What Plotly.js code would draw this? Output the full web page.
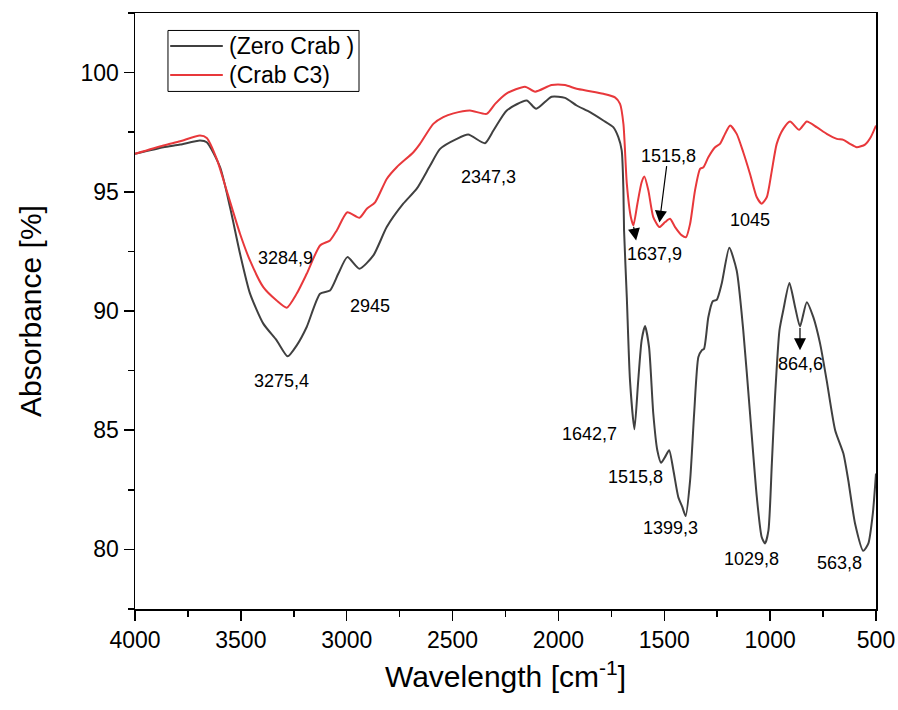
<!DOCTYPE html>
<html>
<head>
<meta charset="utf-8">
<script src="https://cdn.plot.ly/plotly-3.0.1.min.js"></script>
<style>html,body{margin:0;padding:0;background:#fff;}#chart{width:898px;height:710px;}</style>
</head>
<body>
<div id="chart"></div>
<script>
// Zero Crab (gray) series
var zeroWavenumber = [4000,3866,3787,3693,3661,3598,3551,3504,3457,3394,3331,3279,3236,3189,3126,3079,3040,2997,2940,2874,2811,2733,2669,2606,2559,2480,2426,2347,2307,2244,2150,2105,2032,1969,1914,1851,1788,1741,1717,1701,1693,1690,1677,1662,1641,1623,1607,1591,1572,1552,1533,1515,1496,1477,1457,1434,1415,1399,1378,1359,1339,1323,1312,1292,1271,1252,1229,1193,1158,1127,1095,1063,1040,1024,1008,992,977,956,938,909,882,859,827,796,764,733,693,654,631,599,560,536,515,500];
var zeroValues = [96.59,96.87,96.98,97.15,97.08,96.03,94.35,92.41,90.74,89.47,88.77,88.10,88.56,89.33,90.72,90.86,91.56,92.26,91.77,92.33,93.52,94.50,95.13,96.10,96.80,97.22,97.40,97.04,97.57,98.41,98.83,98.48,98.99,98.94,98.62,98.34,97.99,97.71,97.29,96.73,95.05,93.38,90.58,87.09,85.04,87.09,88.77,89.37,88.49,85.70,84.16,83.63,83.88,84.16,83.32,82.20,81.78,81.40,82.90,85.70,88.07,88.35,88.42,89.74,90.41,90.47,91.14,92.65,91.70,89.19,85.70,82.20,80.52,80.25,80.80,83.60,86.39,89.19,90.03,91.17,90.16,89.35,90.37,89.74,88.63,87.09,85.00,84.02,82.90,81.09,79.94,80.25,81.50,83.18];

// Crab C3 (red) series
var c3Wavenumber = [4000,3866,3787,3693,3661,3614,3567,3504,3457,3394,3331,3283,3236,3189,3126,3079,3047,2997,2940,2905,2866,2811,2764,2685,2654,2591,2544,2496,2418,2339,2299,2244,2158,2110,2032,1969,1914,1851,1788,1733,1709,1693,1677,1658,1646,1627,1607,1594,1575,1552,1523,1496,1473,1449,1417,1397,1378,1355,1331,1315,1292,1260,1237,1213,1189,1158,1127,1095,1063,1040,1016,992,969,938,906,863,827,780,733,685,654,623,591,552,525,500];
var c3Values = [96.59,96.94,97.12,97.36,97.26,96.38,95.05,93.24,92.12,91.00,90.44,90.14,90.73,91.56,92.75,92.96,93.38,94.14,93.91,94.29,94.56,95.54,96.03,96.66,97.01,97.85,98.13,98.29,98.41,98.27,98.69,99.13,99.41,99.20,99.48,99.48,99.32,99.22,99.11,98.96,98.69,97.85,95.34,93.94,93.59,94.50,95.40,95.64,95.05,93.94,93.52,93.73,93.87,93.52,93.17,93.10,93.66,95.05,95.96,96.03,96.45,96.87,97.01,97.43,97.78,97.43,96.66,95.75,94.77,94.50,94.77,95.89,97.01,97.64,97.95,97.60,97.95,97.71,97.43,97.22,97.18,97.01,96.87,96.98,97.29,97.78];

// Peak labels
var peakLabels = ["3284,9","3275,4","2945","2347,3","1515,8","1637,9","1045","864,6","1642,7","1515,8","1399,3","1029,8","563,8"];
var peakLabelX = [3287,3310,2890,2329,1478,1544,1095,855,1851,1638,1473,1090,673];
var peakLabelY = [92.23,87.05,90.21,95.61,96.52,92.40,93.83,87.79,84.83,83.04,80.90,79.58,79.41];

// Arrows: head (x,y) and tail (ax,ay)
var arrowHeadX = [1633,1523,859];
var arrowHeadY = [92.96,93.71,88.35];
var arrowTailX = [1646,1488,859];
var arrowTailY = [93.59,96.14,89.35];

var seriesNames = ["(Zero Crab )","(Crab C3)"];
var seriesColors = ["#404040","#e8383b"];
var xTicks = [4000,3500,3000,2500,2000,1500,1000,500];
var yTicks = [80,85,90,95,100];

var FONT = "Liberation Sans, Arial, sans-serif";

var traces = [
  {x: zeroWavenumber, y: zeroValues, type: "scatter", mode: "lines", name: seriesNames[0],
   line: {color: seriesColors[0], width: 2, shape: "spline", smoothing: 0.6}},
  {x: c3Wavenumber, y: c3Values, type: "scatter", mode: "lines", name: seriesNames[1],
   line: {color: seriesColors[1], width: 2, shape: "spline", smoothing: 0.6}}
];

var annotations = [];
for (var i = 0; i < peakLabels.length; i++) {
  annotations.push({x: peakLabelX[i], y: peakLabelY[i], xref: "x", yref: "y", text: peakLabels[i],
    showarrow: false, font: {family: FONT, size: 18, color: "#000"}, xanchor: "center", yanchor: "middle"});
}
for (var j = 0; j < arrowHeadX.length; j++) {
  annotations.push({x: arrowHeadX[j], y: arrowHeadY[j], ax: arrowTailX[j], ay: arrowTailY[j],
    xref: "x", yref: "y", axref: "x", ayref: "y", text: "", showarrow: true,
    arrowhead: 2, arrowsize: 2, arrowwidth: 1.2, arrowcolor: "#000", standoff: 0, startstandoff: 0});
}

// Hand-placed legend (box, sample lines, labels) in paper coordinates
var legendBox = {x0: 0.0445, x1: 0.3023, y0: 0.8684, y1: 0.9707};
var legendRowsY = [0.9447, 0.8961];
var shapes = [{type: "rect", xref: "paper", yref: "paper", x0: legendBox.x0, x1: legendBox.x1,
  y0: legendBox.y0, y1: legendBox.y1, line: {color: "#000", width: 1}, fillcolor: "#fff", layer: "above"}];
for (var k = 0; k < seriesNames.length; k++) {
  shapes.push({type: "line", xref: "paper", yref: "paper", x0: 0.0475, x1: 0.1185,
    y0: legendRowsY[k], y1: legendRowsY[k], line: {color: seriesColors[k], width: 2}, layer: "above"});
  annotations.push({xref: "paper", yref: "paper", x: 0.1235, y: legendRowsY[k], text: seriesNames[k],
    showarrow: false, xanchor: "left", yanchor: "middle", font: {family: FONT, size: 23, color: "#000"}});
}

var layout = {
  width: 898, height: 710,
  margin: {l: 135, r: 22, t: 13, b: 101},
  paper_bgcolor: "#fff", plot_bgcolor: "#fff",
  showlegend: false,
  xaxis: {
    range: [4000, 500], tickvals: xTicks, ticktext: xTicks.map(String),
    ticks: "outside", ticklen: 10, tickwidth: 1.5, tickcolor: "#000",
    minor: {dtick: 250, tick0: 0, ticks: "outside", ticklen: 6, tickwidth: 1.5, tickcolor: "#000"},
    showline: true, linecolor: "#000", linewidth: 1.5, mirror: true,
    showgrid: false, zeroline: false,
    tickfont: {family: FONT, size: 23, color: "#000"},
    title: {text: "Wavelength [cm<sup>-1</sup>]", font: {family: FONT, size: 30, color: "#000"}, standoff: 14}
  },
  yaxis: {
    range: [77.5, 102.5], tickvals: yTicks, ticktext: yTicks.map(String),
    ticks: "outside", ticklen: 10, tickwidth: 1.5, tickcolor: "#000",
    minor: {dtick: 2.5, tick0: 0, ticks: "outside", ticklen: 6, tickwidth: 1.5, tickcolor: "#000"},
    showline: true, linecolor: "#000", linewidth: 1.5, mirror: true,
    showgrid: false, zeroline: false,
    tickfont: {family: FONT, size: 23, color: "#000"},
    title: {text: "Absorbance [%]", font: {family: FONT, size: 30, color: "#000"}, standoff: 30}
  },
  shapes: shapes,
  annotations: annotations
};

Plotly.newPlot("chart", traces, layout, {displayModeBar: false, staticPlot: true});
</script>
</body>
</html>
